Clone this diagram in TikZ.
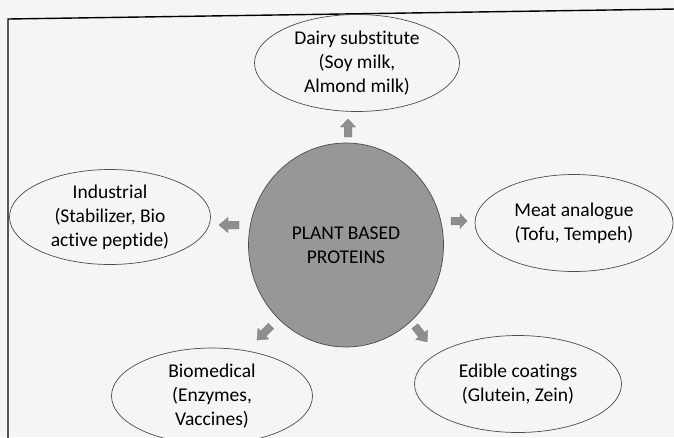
\documentclass[tikz,border=0pt]{standalone}
\usepackage{fontspec}
\setmainfont{Carlito}[Ligatures={NoCommon,NoRequired,NoContextual}]
\usetikzlibrary{shapes.geometric}
\definecolor{bg}{HTML}{F5F5F5}
\definecolor{core}{HTML}{979797}
\definecolor{arr}{HTML}{8E8E8E}
\tikzset{
  bubble/.style={ellipse, draw=black!70, line width=0.7pt, inner sep=0pt},
  lbl/.style={align=center, font=\fontsize{19.5}{24}\selectfont},
  blockarrow/.style={draw=black!50, fill=arr, line width=0.4pt, line join=miter},
  frame/.style={line width=1.4pt, black}
}
\newcommand{\blockarrowpath}[1]{% #1 = half length
  (-#1,-3.8) -- (1,-3.8) -- (1,-7.5) -- (#1,0) -- (1,7.5) -- (1,3.8) -- (-#1,3.8) -- cycle}
\begin{document}
\begin{tikzpicture}[x=1pt,y=-1pt]
\useasboundingbox (0,0) rectangle (674,437);
\clip (0,0) rectangle (674,437);
\fill[bg] (0,0) rectangle (674,437);
% frame
\coordinate (fbl) at (8,440);
\coordinate (ftl) at (8,19);
\coordinate (ftr) at (676,9);
\draw[frame] (fbl) -- (ftl) -- (ftr);
% centre
\node[ellipse, draw=black!70, fill=core, line width=0.7pt, minimum width=195pt, minimum height=204pt, inner sep=0pt] (core) at (346,245) {};
\node[lbl] (coretext) at (346,245) {PLANT BASED\\PROTEINS};
% outer ellipses
\node[bubble, minimum width=205pt, minimum height=97pt] (dairy) at (357,63) {};
\node[lbl] at (dairy.center) {Dairy substitute\\(Soy milk,\\Almond milk)};
\node[bubble, minimum width=198pt, minimum height=97pt] (meat) at (574,223) {};
\node[lbl] at (meat.center) {Meat analogue\\(Tofu, Tempeh)};
\node[bubble, minimum width=201pt, minimum height=95pt] (indus) at (110,217) {};
\node[lbl] at (indus.center) {Industrial\\(Stabilizer, Bio\\active peptide)};
\node[bubble, minimum width=201pt, minimum height=96pt] (biomed) at (212,396) {};
\node[lbl] at (biomed.center) {Biomedical\\(Enzymes,\\Vaccines)};
\node[bubble, minimum width=207pt, minimum height=97pt] (edible) at (518,384) {};
\node[lbl] at (edible.center) {Edible coatings\\(Glutein, Zein)};
% block arrows
\coordinate (aup) at (348,128);
\coordinate (aright) at (459,221);
\coordinate (aleft) at (229,225);
\coordinate (adl) at (264,333);
\coordinate (adr) at (421,334);
\draw[blockarrow, shift={(aup)}, rotate=90] \blockarrowpath{9};
\draw[blockarrow, shift={(aright)}, rotate=0] \blockarrowpath{8};
\draw[blockarrow, shift={(aleft)}, rotate=180] \blockarrowpath{10};
\draw[blockarrow, shift={(adl)}, rotate=225] \blockarrowpath{10};
\draw[blockarrow, shift={(adr)}, rotate=-52] \blockarrowpath{10};
\end{tikzpicture}
\end{document}
